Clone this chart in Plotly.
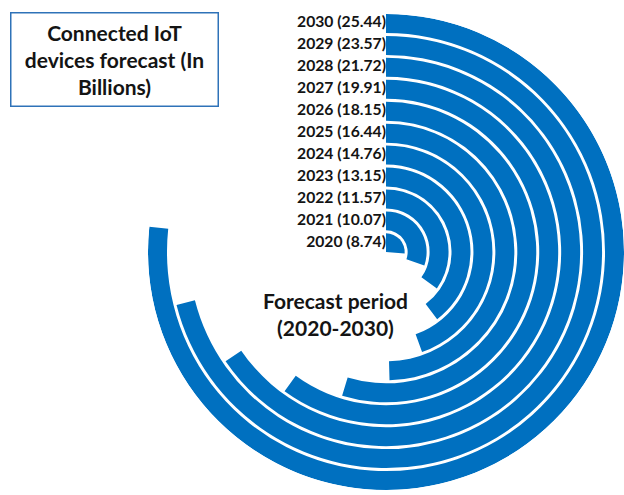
import plotly.graph_objects as go

# Connected IoT devices per year (billions)
years = ["2020", "2021", "2022", "2023", "2024", "2025",
         "2026", "2027", "2028", "2029", "2030"]
devices = [8.74, 10.07, 11.57, 13.15, 14.76, 16.44,
           18.15, 19.91, 21.72, 23.57, 25.44]

# value that corresponds to a full 360-degree turn
FULL_TURN = 33.17

W, H = 624, 495
CX, CY, R_PX = 386, 252, 238          # centre and radius of the polar area (px)
PITCH, THICK, FIRST = 22.3, 19.3, 19  # ring spacing / thickness (radial units)

n = len(devices)
outer = [FIRST + PITCH * i for i in range(n)]
inner = [max(o - THICK, 0) for o in outer]
mid = [(o + b) / 2 for o, b in zip(outer, inner)]
span = [v / FULL_TURN * 360 for v in devices]

BLUE = "#0070C0"
FONT = "Lato"

fig = go.Figure()
fig.add_trace(go.Barpolar(
    r=[o - b for o, b in zip(outer, inner)],
    base=inner,
    theta=[s / 2 for s in span],
    width=span,
    marker=dict(color=BLUE, line=dict(width=0)),
    hovertext=[f"{y}: {v}" for y, v in zip(years, devices)],
    hoverinfo="text",
))
fig.add_trace(go.Scatterpolar(
    r=mid,
    theta=[0] * n,
    mode="text",
    text=[f"<b>{y} ({v:.2f})</b>" for y, v in zip(years, devices)],
    textposition="middle left",
    textfont=dict(family=FONT, size=15.7, color="#141414"),
    cliponaxis=False,
    hoverinfo="skip",
))

fig.update_layout(
    width=W, height=H,
    margin=dict(l=0, r=0, t=0, b=0),
    paper_bgcolor="white",
    showlegend=False,
    polar=dict(
        domain=dict(x=[(CX - R_PX) / W, (CX + R_PX) / W],
                    y=[(H - CY - R_PX) / H, (H - CY + R_PX) / H]),
        bgcolor="white",
        radialaxis=dict(range=[0, outer[-1]], visible=False),
        angularaxis=dict(direction="clockwise", rotation=90, visible=False),
    ),
    annotations=[
        dict(text="<b>Connected IoT<br>devices forecast (In<br>Billions)</b>",
             xref="paper", yref="paper", x=114 / W, y=1 - 59.5 / H,
             xanchor="center", yanchor="middle", showarrow=False,
             font=dict(family=FONT, size=21, color="#141414"),
             width=204, height=90, borderpad=1,
             bordercolor="#2E72B8", borderwidth=1.5, bgcolor="white"),
        dict(text="<b>Forecast period<br>(2020-2030)</b>",
             xref="paper", yref="paper", x=335 / W, y=1 - 314 / H,
             xanchor="center", yanchor="middle", showarrow=False,
             font=dict(family=FONT, size=21, color="#141414")),
    ],
)

fig.write_html("out.html")
